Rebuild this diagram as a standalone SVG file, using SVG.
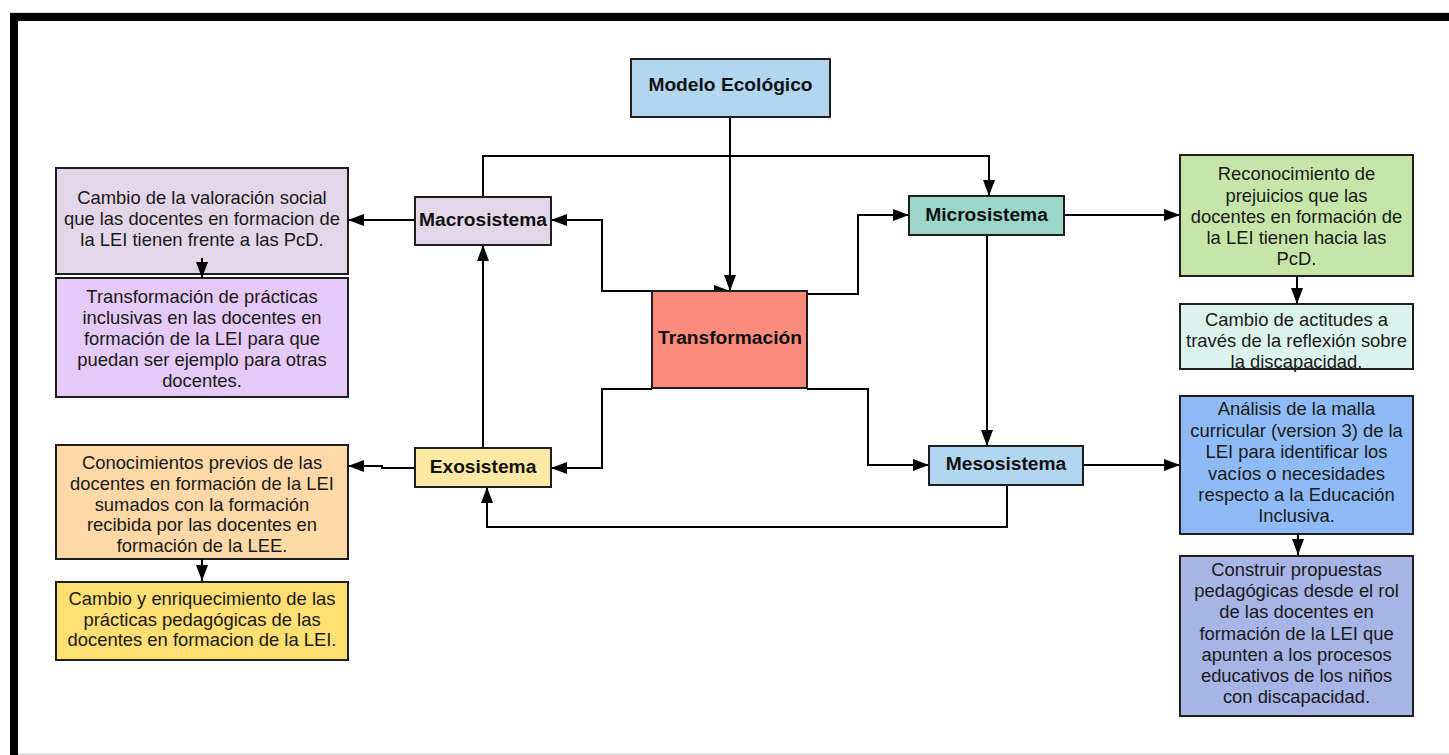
<svg xmlns="http://www.w3.org/2000/svg" width="1449" height="755" viewBox="0 0 1449 755">
<defs>
<marker id="arr" markerUnits="userSpaceOnUse" markerWidth="16" markerHeight="12" refX="16" refY="6" orient="auto-start-reverse" viewBox="0 0 16 12">
<path d="M0,0 L16,6 L0,12 z" fill="#000"/>
</marker>
<style>
.box{stroke:#1e1e1e;stroke-width:2}
.t{font-family:"Liberation Sans",Arial,sans-serif;font-size:18.4px;fill:#1a1a1a;text-anchor:middle}
.b{font-family:"Liberation Sans",Arial,sans-serif;font-size:19.2px;font-weight:bold;fill:#111;text-anchor:middle}
.c{fill:none;stroke:#000;stroke-width:2}
.ca{fill:none;stroke:#000;stroke-width:2;marker-end:url(#arr)}
</style>
</defs>
<rect x="0" y="0" width="1449" height="755" fill="#fff"/>
<rect x="10" y="12" width="1439" height="1" fill="#ddd"/>
<rect x="10" y="13" width="1439" height="8" fill="#000"/>
<rect x="10" y="13" width="8" height="742" fill="#000"/>
<rect x="18" y="753" width="1431" height="2" fill="#e0e0e0"/>

<g id="connectors">
<path class="c" d="M730,117 V275"/>
<path class="ca" d="M730,117 V291"/>
<path class="ca" d="M483,196 V156 H989 V196"/>
<path class="c" d="M730,291 H602 V220 H551" marker-start="url(#arr)" marker-end="url(#arr)"/>
<path class="ca" d="M807,294 H858 V215 H909"/>
<path class="ca" d="M1064,215 H1180"/>
<path class="ca" d="M987,235 V446"/>
<path class="ca" d="M652,389 H602 V468 H551"/>
<path class="ca" d="M807,389 H868 V465 H929"/>
<path class="ca" d="M1007,485 V527 H487 V487"/>
<path class="ca" d="M483,448 V245"/>
<path class="ca" d="M1083,465 H1180"/>
<path class="ca" d="M415,468 H382 V466 H348"/>
<path class="ca" d="M415,220 H348"/>
</g>

<g id="modelo">
<rect class="box" x="631" y="59" width="199" height="58" fill="#b2d6f0"/>
<text class="b" x="730.5" y="91">Modelo Ecológico</text>
</g>
<g id="macrosistema">
<rect class="box" x="415" y="197" width="136" height="48" fill="#e3d6e8"/>
<text class="b" x="483" y="226">Macrosistema</text>
</g>
<g id="microsistema">
<rect class="box" x="909" y="196" width="155" height="39" fill="#9bd6c9"/>
<text class="b" x="986.5" y="221">Microsistema</text>
</g>
<g id="transformacion">
<rect class="box" x="652" y="291" width="155" height="97" fill="#fd8b7c"/>
<text class="b" x="730" y="344">Transformación</text>
</g>
<g id="exosistema">
<rect class="box" x="415" y="448" width="136" height="39" fill="#fde9a3"/>
<text class="b" x="483" y="472.5">Exosistema</text>
</g>
<g id="mesosistema">
<rect class="box" x="929" y="446" width="154" height="39" fill="#b2d6f0"/>
<text class="b" x="1006" y="470">Mesosistema</text>
</g>

<g id="valoracion">
<rect class="box" x="56" y="168" width="292" height="106" fill="#e3d6e8"/>
<text class="t" x="202" y="203.5">Cambio de la valoración social</text>
<text class="t" x="202" y="224.5">que las docentes en formacion de</text>
<text class="t" x="202" y="245.5">la LEI tienen frente a las PcD.</text>
</g>
<g id="practicas">
<rect class="box" x="56" y="278" width="292" height="119" fill="#e5c9f7"/>
<text class="t" x="202" y="302.5">Transformación de prácticas</text>
<text class="t" x="202" y="323.5">inclusivas en las docentes en</text>
<text class="t" x="202" y="344.7">formación de la LEI para que</text>
<text class="t" x="202" y="366">puedan ser ejemplo para otras</text>
<text class="t" x="202" y="387">docentes.</text>
</g>
<g id="conocimientos">
<rect class="box" x="56" y="445" width="292" height="114" fill="#fed9a7"/>
<text class="t" x="202" y="469.3">Conocimientos previos de las</text>
<text class="t" x="202" y="490">docentes en formación de la LEI</text>
<text class="t" x="202" y="510.5">sumados con la formación</text>
<text class="t" x="202" y="531">recibida por las docentes en</text>
<text class="t" x="202" y="551.5">formación de la LEE.</text>
</g>
<g id="enriquecimiento">
<rect class="box" x="56" y="582" width="292" height="78" fill="#ffdf72"/>
<text class="t" x="202" y="605">Cambio y enriquecimiento de las</text>
<text class="t" x="202" y="625.5">prácticas pedagógicas de las</text>
<text class="t" x="202" y="646">docentes en formacion de la LEI.</text>
</g>
<g id="reconocimiento">
<rect class="box" x="1180" y="155" width="233" height="121" fill="#c6e6a9"/>
<text class="t" x="1296.5" y="180">Reconocimiento de</text>
<text class="t" x="1296.5" y="201.5">prejuicios que las</text>
<text class="t" x="1296.5" y="222.7">docentes en formación de</text>
<text class="t" x="1296.5" y="243.5">la LEI tienen hacia las</text>
<text class="t" x="1296.5" y="264.5">PcD.</text>
</g>
<g id="actitudes">
<rect class="box" x="1180" y="304" width="233" height="65" fill="#dcf3ed"/>
<text class="t" x="1296.5" y="325.7">Cambio de actitudes a</text>
<text class="t" x="1296.5" y="346.7">través de la reflexión sobre</text>
<text class="t" x="1296.5" y="367.5">la discapacidad.</text>
</g>
<g id="analisis">
<rect class="box" x="1180" y="396" width="233" height="138" fill="#8ebbf5"/>
<text class="t" x="1296.5" y="415">Análisis de la malla</text>
<text class="t" x="1296.5" y="437">curricular (version 3) de la</text>
<text class="t" x="1296.5" y="458.3">LEI para identificar los</text>
<text class="t" x="1296.5" y="479.5">vacíos o necesidades</text>
<text class="t" x="1296.5" y="500.7">respecto a la Educación</text>
<text class="t" x="1296.5" y="521.7">Inclusiva.</text>
</g>
<g id="construir">
<rect class="box" x="1180" y="556" width="233" height="160" fill="#a6b4e6"/>
<text class="t" x="1296.5" y="576">Construir propuestas</text>
<text class="t" x="1296.5" y="597">pedagógicas desde el rol</text>
<text class="t" x="1296.5" y="618.3">de las docentes en</text>
<text class="t" x="1296.5" y="639.5">formación de la LEI que</text>
<text class="t" x="1296.5" y="660.8">apunten a los procesos</text>
<text class="t" x="1296.5" y="682">educativos de los niños</text>
<text class="t" x="1296.5" y="703.3">con discapacidad.</text>
</g>

<g id="short-arrows">
<path class="ca" d="M202,258 V278"/>
<path class="ca" d="M202,559 V581"/>
<path class="ca" d="M1297,276 V304"/>
<path class="ca" d="M1298,534 V555"/>
</g>
</svg>
